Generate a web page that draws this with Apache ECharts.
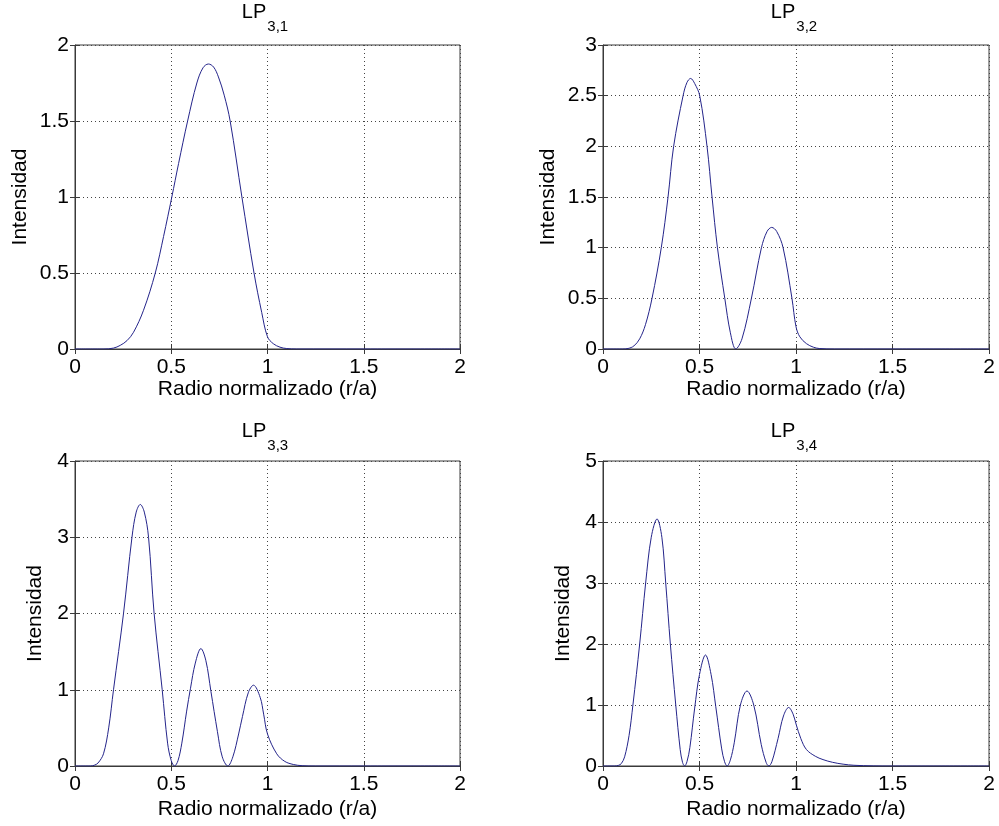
<!DOCTYPE html>
<html><head><meta charset="utf-8">
<script src="https://cdn.jsdelivr.net/npm/echarts@6/dist/echarts.min.js"></script>
<style>html,body{margin:0;padding:0;background:#fff}#c{width:999px;height:826px}</style>
</head><body><div id="c"></div>
<script>
// Intensity profiles: [r/a, intensity]
const lp31 = [[0,0],[0.15,0],[0.2,0.006],[0.235,0.024],[0.27,0.055],[0.304,0.11],[0.356,0.255],[0.417,0.5],[0.46,0.74],[0.503,1.0],[0.538,1.22],[0.585,1.5],[0.633,1.75],[0.665,1.85],[0.693,1.875],[0.72,1.855],[0.745,1.79],[0.775,1.67],[0.806,1.5],[0.867,1.0],[0.93,0.5],[0.97,0.24],[1.0,0.08],[1.03,0.035],[1.065,0.012],[1.1,0.003],[1.15,0],[1.5,0],[2,0]];
const lp32 = [[0,0],[0.1,0],[0.13,0.005],[0.16,0.03],[0.19,0.10],[0.22,0.24],[0.254,0.5],[0.302,1.0],[0.337,1.5],[0.366,2.0],[0.415,2.5],[0.435,2.63],[0.454,2.67],[0.475,2.62],[0.501,2.5],[0.539,2.0],[0.565,1.5],[0.593,1.0],[0.631,0.5],[0.66,0.16],[0.688,0],[0.72,0.1],[0.769,0.5],[0.821,1.0],[0.85,1.16],[0.874,1.2],[0.9,1.16],[0.933,1.0],[0.979,0.5],[1.0,0.22],[1.02,0.12],[1.054,0.053],[1.09,0.018],[1.12,0.005],[1.2,0],[1.5,0],[2,0]];
const lp33 = [[0,0],[0.08,0],[0.1,0.01],[0.12,0.04],[0.148,0.16],[0.175,0.5],[0.2,1.0],[0.252,2.0],[0.296,3.0],[0.318,3.33],[0.339,3.43],[0.36,3.33],[0.382,3.0],[0.411,2.0],[0.453,1.0],[0.481,0.3],[0.5,0.07],[0.517,0],[0.535,0.07],[0.555,0.3],[0.58,0.72],[0.6,1.02],[0.625,1.35],[0.654,1.54],[0.68,1.38],[0.706,0.98],[0.74,0.45],[0.765,0.12],[0.794,0],[0.82,0.12],[0.85,0.42],[0.87,0.65],[0.9,0.96],[0.927,1.06],[0.962,0.9],[0.98,0.68],[1.0,0.42],[1.048,0.16],[1.09,0.06],[1.134,0.02],[1.18,0.004],[1.25,0],[1.5,0],[2,0]];
const lp34 = [[0,0],[0.06,0],[0.08,0.01],[0.095,0.04],[0.112,0.15],[0.135,0.5],[0.155,1.0],[0.19,2.0],[0.221,3.0],[0.25,3.75],[0.28,4.05],[0.305,3.75],[0.325,3.0],[0.349,2.0],[0.377,1.0],[0.4,0.27],[0.412,0.06],[0.423,0],[0.435,0.07],[0.45,0.3],[0.475,0.95],[0.5,1.5],[0.531,1.82],[0.56,1.5],[0.584,0.98],[0.615,0.28],[0.63,0.07],[0.643,0],[0.66,0.1],[0.68,0.38],[0.712,1.0],[0.746,1.23],[0.781,1.0],[0.82,0.35],[0.845,0.06],[0.859,0],[0.875,0.07],[0.907,0.45],[0.935,0.82],[0.962,0.96],[0.985,0.85],[1.0,0.69],[1.025,0.45],[1.054,0.27],[1.1,0.16],[1.14,0.105],[1.19,0.06],[1.244,0.03],[1.3,0.012],[1.4,0.002],[1.5,0],[2,0]];

const modeIndices = ['3,1','3,2','3,3','3,4'];
const yMaxValues = [2, 3, 4, 5];
const yIntervals = [0.5, 0.5, 1, 1];
const xRange = [0, 2];
const xInterval = 0.5;
const xAxisTitle = 'Radio normalizado (r/a)';
const yAxisTitle = 'Intensidad';
const profiles = [lp31, lp32, lp33, lp34];

const FONT = '"Liberation Sans", Arial, Helvetica, sans-serif';
const LINE = '#24248a';
const AX = '#3a3a3a';
const layout = [
  {left: 75, top: 45, width: 385, height: 304, titleX: 265, titleY: 2, yGap: 44, xGap: 27},
  {left: 603, top: 45, width: 386, height: 304, titleX: 794, titleY: 2, yGap: 44, xGap: 27},
  {left: 75, top: 461, width: 385, height: 305, titleX: 265, titleY: 421, yGap: 29, xGap: 33},
  {left: 603, top: 461, width: 386, height: 305, titleX: 794, titleY: 421, yGap: 29, xGap: 33}
];

const grid = [], xAxis = [], yAxis = [], series = [], title = [];
layout.forEach((L, i) => {
  grid.push({left: L.left, top: L.top, width: L.width, height: L.height, show: true,
    borderColor: AX, borderWidth: 1, backgroundColor: '#fff'});
  title.push({
    text: '{a|LP}{b|' + modeIndices[i] + '}',
    left: L.titleX, top: L.titleY, textAlign: 'center', padding: 0,
    textStyle: {fontWeight: 'normal', rich: {
      a: {fontFamily: FONT, fontSize: 20, fontWeight: 'normal', color: '#000', verticalAlign: 'top'},
      b: {fontFamily: FONT, fontSize: 15, fontWeight: 'normal', color: '#000', padding: [17, 0, 0, 1]}
    }}
  });
  const tickStyle = {show: true, inside: true, length: 5, lineStyle: {color: AX}};
  xAxis.push({
    type: 'value', gridIndex: i, min: xRange[0], max: xRange[1], interval: xInterval,
    name: xAxisTitle, nameLocation: 'middle', nameGap: L.xGap,
    nameTextStyle: {fontFamily: FONT, fontSize: 21, color: '#000', verticalAlign: 'top'},
    axisLine: {show: true, onZero: false, lineStyle: {color: AX}},
    axisTick: tickStyle,
    axisLabel: {fontFamily: FONT, fontSize: 21, color: '#000', margin: 8},
    splitLine: {show: true, lineStyle: {color: '#444', type: [1, 3], width: 1}}
  });
  xAxis.push({
    type: 'value', gridIndex: i, position: 'top', min: xRange[0], max: xRange[1], interval: xInterval,
    axisLine: {show: false}, axisTick: tickStyle, axisLabel: {show: false}, splitLine: {show: false}
  });
  yAxis.push({
    type: 'value', gridIndex: i, min: 0, max: yMaxValues[i], interval: yIntervals[i],
    name: yAxisTitle, nameLocation: 'middle', nameGap: L.yGap, nameRotate: 90,
    nameTextStyle: {fontFamily: FONT, fontSize: 21, color: '#000'},
    axisLine: {show: true, onZero: false, lineStyle: {color: AX}},
    axisTick: tickStyle,
    axisLabel: {fontFamily: FONT, fontSize: 21, color: '#000', margin: 6},
    splitLine: {show: true, lineStyle: {color: '#444', type: [1, 3], width: 1}}
  });
  yAxis.push({
    type: 'value', gridIndex: i, position: 'right', min: 0, max: yMaxValues[i], interval: yIntervals[i],
    axisLine: {show: false}, axisTick: tickStyle, axisLabel: {show: false}, splitLine: {show: false}
  });
  series.push({
    type: 'line', xAxisIndex: i * 2, yAxisIndex: i * 2, data: profiles[i],
    showSymbol: false, smooth: 0.35, clip: true,
    lineStyle: {color: LINE, width: 1}, itemStyle: {color: LINE}
  });
});

const chart = echarts.init(document.getElementById('c'), null, {renderer: 'canvas'});
chart.setOption({backgroundColor: '#fff', animation: false, title, grid, xAxis, yAxis, series});
</script>
</body></html>
